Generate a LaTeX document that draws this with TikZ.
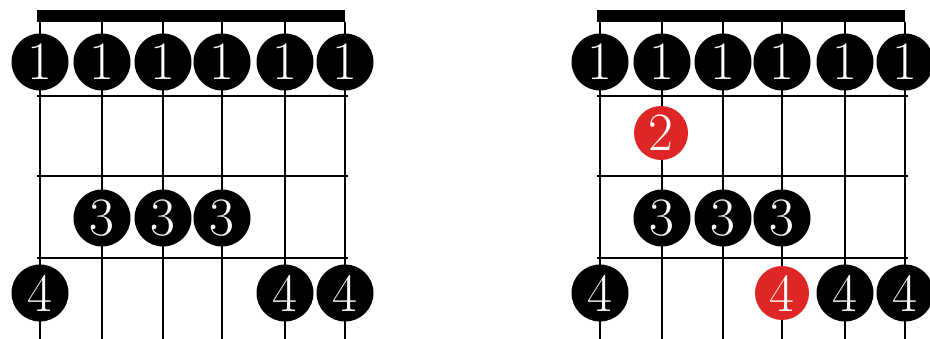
\documentclass[tikz,border=0pt]{standalone}
\definecolor{fretred}{RGB}{222,38,38}
\begin{document}
\begin{tikzpicture}[x=1pt,y=-1pt,line cap=butt,
  string/.style={line width=2pt},
  fret/.style={line width=2pt},
  dot/.style={circle,fill=black,text=white,minimum size=57pt,inner sep=0pt,
    font=\fontsize{54}{54}\selectfont},
  reddot/.style={dot,fill=fretred,minimum size=54pt}]

\useasboundingbox[fill=white] (0,0) rectangle (930,339);

% --- nut, strings and frets of both boxes ---
\foreach \dx in {0,560}{
  \fill (37+\dx,10) rectangle (345+\dx,22);
  \foreach \x in {40,102,163,222,285,345}
    \draw[string] (\x+\dx,22) -- (\x+\dx,339);
  \foreach \y in {96,176,258}
    \draw[fret] (37+\dx,\y) -- (348+\dx,\y);
}

% --- left box: first finger on all strings ---
\foreach \x [count=\s] in {40,102,163,222,285,345}
  \node[dot] (l1-\s) at (\x,62) {1};
\node[dot] (l3-2) at (102,218) {3};
\node[dot] (l3-3) at (163,218) {3};
\node[dot] (l3-4) at (222,218) {3};
\node[dot] (l4-1) at (40,293) {4};
\node[dot] (l4-5) at (285,293) {4};
\node[dot] (l4-6) at (345,293) {4};

% --- right box: same shape plus the two red notes ---
\foreach \x [count=\s] in {600,662,723,782,845,905}
  \node[dot] (r1-\s) at (\x,62) {1};
\node[reddot] (r2-2) at (661,133) {2};
\node[dot] (r3-2) at (662,218) {3};
\node[dot] (r3-3) at (723,218) {3};
\node[dot] (r3-4) at (782,218) {3};
\node[dot] (r4-1) at (600,293) {4};
\node[reddot] (r4-4) at (782,293) {4};
\node[dot] (r4-5) at (845,293) {4};
\node[dot] (r4-6) at (905,293) {4};

\end{tikzpicture}
\end{document}
